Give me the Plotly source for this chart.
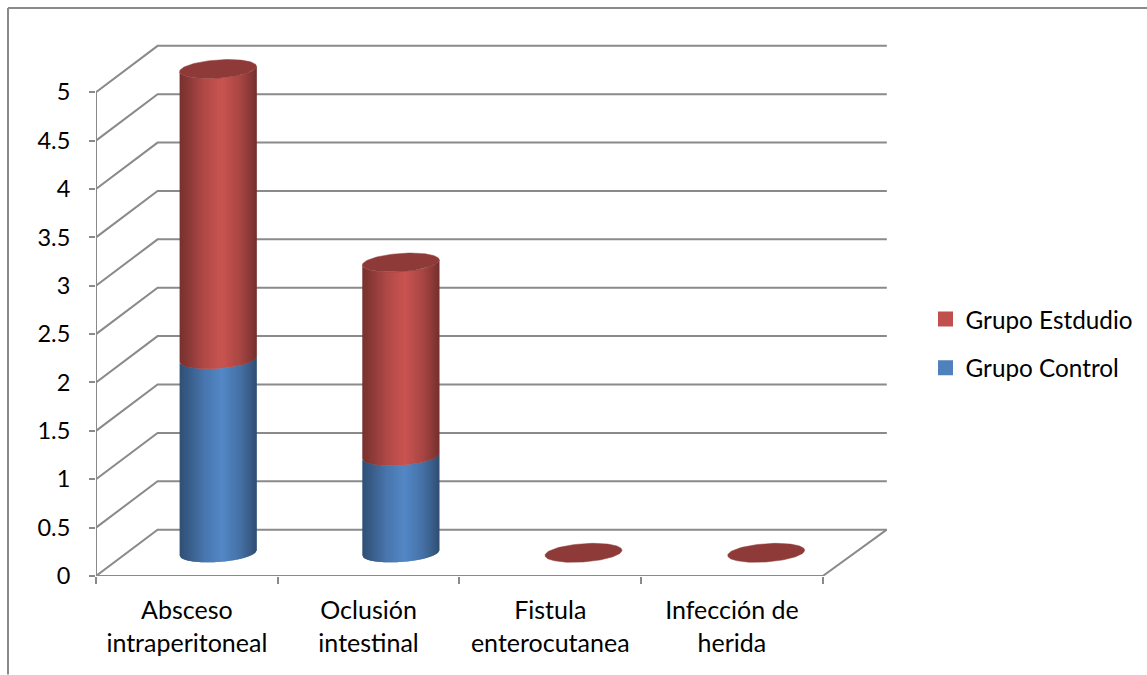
import numpy as np
import plotly.graph_objects as go

# Chart data
categories = ["Absceso<br>intraperitoneal", "Oclusión<br>intestinal",
              "Fistula<br>enterocutanea", "Infección de<br>herida"]
grupo_control = [2, 1, 0, 0]
grupo_estudio = [3, 2, 0, 0]
y_ticks = [0, 0.5, 1, 1.5, 2, 2.5, 3, 3.5, 4, 4.5, 5]
y_tick_labels = ["0", "0.5", "1", "1.5", "2", "2.5", "3", "3.5", "4", "4.5", "5"]

# Canvas and plot box
W, H = 1147, 675
M_L, M_R, M_T, M_B = 96, 260, 42, 98.5
PX_PER_CAT = 181.7
PX_PER_UNIT = 96.85
X_RANGE = [-0.5, -0.5 + (W - M_L - M_R) / PX_PER_CAT]
Y_RANGE = [0, (H - M_T - M_B) / PX_PER_UNIT]

# Oblique projection of the 3D box: a point at depth 1 lies on the back wall
DEPTH_X = 61.6 / PX_PER_CAT
DEPTH_X_SPREAD = 0.6 / PX_PER_CAT
DEPTH_Y = 46.4 / PX_PER_UNIT

# Cylinder shape, in axis units
BAR_X0 = 0.172
BAR_STEP = 1.0055
BAR_A = 38.5 / PX_PER_CAT
BAR_H = 9.14 / PX_PER_UNIT
BAR_TILT = 0.0675 * PX_PER_CAT / PX_PER_UNIT
N_SLICES = 77

GRID = "#8A8A8A"
RED, BLUE, RED_TOP = "#C0504D", "#4F81BD", "#8E3A38"
TEXT = "#000000"
FONT = "Lato, Carlito, sans-serif"
LABEL_SIZE = 25


def project(cat, val, depth):
    return cat + depth * (DEPTH_X + DEPTH_X_SPREAD * (cat + 0.5)), val + depth * DEPTH_Y


def shade(hex_color, u):
    """Darken a base colour towards the cylinder's edges; u runs 0..1 across it."""
    f = np.interp(u, [0, 0.12, 0.32, 0.55, 0.78, 0.93, 1], [0.62, 0.72, 0.92, 1.05, 0.88, 0.7, 0.6])
    rgb = [int(hex_color[i:i + 2], 16) for i in (1, 3, 5)]
    return "rgb({},{},{})".format(*[min(255, round(c * f)) for c in rgb])


def front_arc(val, off):
    """Lower edge of the cylinder's cross-section at height val, off from its axis."""
    return val + DEPTH_Y / 2 + off * BAR_TILT - BAR_H * np.sqrt(np.clip(1 - (off / BAR_A) ** 2, 0, 1))


fig = go.Figure()


def line_trace(xs, ys):
    fig.add_trace(go.Scatter(x=xs, y=ys, mode="lines", showlegend=False, hoverinfo="skip",
                             line=dict(color=GRID, width=2), cliponaxis=False))


# Back wall gridlines with their diagonals down the left wall
for v in y_ticks:
    bx0, by = project(-0.5, v, 1)
    bx1, _ = project(3.5, v, 1)
    fx0, fy = project(-0.5, v, 0)
    line_trace([fx0, bx0, bx1], [fy, by, by])

# Value axis line, front floor edge and right floor edge
line_trace([-0.5, -0.5], [0, y_ticks[-1]])
bx1, by = project(3.5, 0, 1)
line_trace([-0.5, 3.5, bx1], [0, 0, by])


def body_slices(center, low, high, color):
    # Each slice runs on under the next one, which keeps seams out of the gradient
    edges = np.linspace(-BAR_A, BAR_A, N_SLICES + 1)
    for i in range(N_SLICES):
        off = edges[i:i + 3]
        col = shade(color, (i + 0.5) / N_SLICES)
        xs = np.concatenate([center + off, center + off[::-1]])
        ys = np.concatenate([[front_arc(low, o) for o in off],
                             [front_arc(high, o) for o in off[::-1]]])
        fig.add_trace(go.Scatter(x=xs, y=ys, mode="lines", fill="toself", fillcolor=col,
                                 line=dict(width=0), showlegend=False,
                                 hoverinfo="skip", cliponaxis=False))


# Stacked cylinders
for i, (ctrl, est) in enumerate(zip(grupo_control, grupo_estudio)):
    center = BAR_X0 + i * BAR_STEP
    if ctrl > 0:
        body_slices(center, 0, ctrl, BLUE)
    if est > 0:
        body_slices(center, ctrl, ctrl + est, RED)
    # Cap of the stack, a flat disc when both values are zero
    t = np.linspace(0, 2 * np.pi, 121)
    dx = BAR_A * np.cos(t)
    dy = DEPTH_Y / 2 + dx * BAR_TILT + BAR_H * np.sin(t)
    fig.add_trace(go.Scatter(x=center + dx, y=ctrl + est + dy, mode="lines", fill="toself",
                             fillcolor=RED_TOP, line=dict(color=RED_TOP, width=0.5),
                             showlegend=False, hoverinfo="skip", cliponaxis=False))

# Legend entries
for name, color in (("Grupo Estdudio", RED), ("Grupo Control", BLUE)):
    fig.add_trace(go.Scatter(x=[None], y=[None], mode="markers", name=name, legendgroup=name,
                             marker=dict(symbol="square", size=15, color=color)))

# Carries the category axis labels and boundary ticks
fig.add_trace(go.Scatter(x=categories, y=[0] * len(categories), xaxis="x2", mode="none",
                         showlegend=False, hoverinfo="skip"))


def paper_x(px):
    return (px - M_L) / (W - M_L - M_R)


def paper_y(py):
    return 1 - (py - M_T) / (H - M_T - M_B)


frame = dict(type="line", xref="paper", yref="paper", line=dict(color=GRID, width=2), layer="below")

fig.update_layout(
    width=W, height=H, autosize=False,
    margin=dict(l=M_L, r=M_R, t=M_T, b=M_B, pad=0, autoexpand=False),
    paper_bgcolor="white", plot_bgcolor="white",
    font=dict(family=FONT, size=LABEL_SIZE, color=TEXT),
    xaxis=dict(range=X_RANGE, visible=False, fixedrange=True),
    xaxis2=dict(type="category", overlaying="x", anchor="y", side="bottom", range=X_RANGE,
                categoryorder="array", categoryarray=categories, tickson="boundaries",
                ticks="outside", ticklen=7, tickwidth=2, tickcolor=GRID,
                showline=False, showgrid=False, zeroline=False, tickangle=0,
                tickfont=dict(family=FONT, size=LABEL_SIZE, color=TEXT), ticklabelstandoff=17,
                fixedrange=True),
    yaxis=dict(range=Y_RANGE, tickmode="array", tickvals=y_ticks, ticktext=y_tick_labels,
               ticks="outside", ticklen=6, tickwidth=2, tickcolor=GRID,
               showline=False, showgrid=False, zeroline=False,
               tickfont=dict(family=FONT, size=23.5, color=TEXT), ticklabelstandoff=14,
               fixedrange=True),
    legend=dict(x=paper_x(925.5), y=paper_y(297), xanchor="left", yanchor="top",
                font=dict(family=FONT, size=24.3, color=TEXT),
                tracegroupgap=14, bgcolor="rgba(0,0,0,0)"),
    shapes=[
        dict(frame, x0=paper_x(8), x1=paper_x(W), y0=paper_y(8), y1=paper_y(8)),
        dict(frame, x0=paper_x(8), x1=paper_x(8), y0=paper_y(8), y1=paper_y(H)),
    ],
)

fig.write_html("out.html")
